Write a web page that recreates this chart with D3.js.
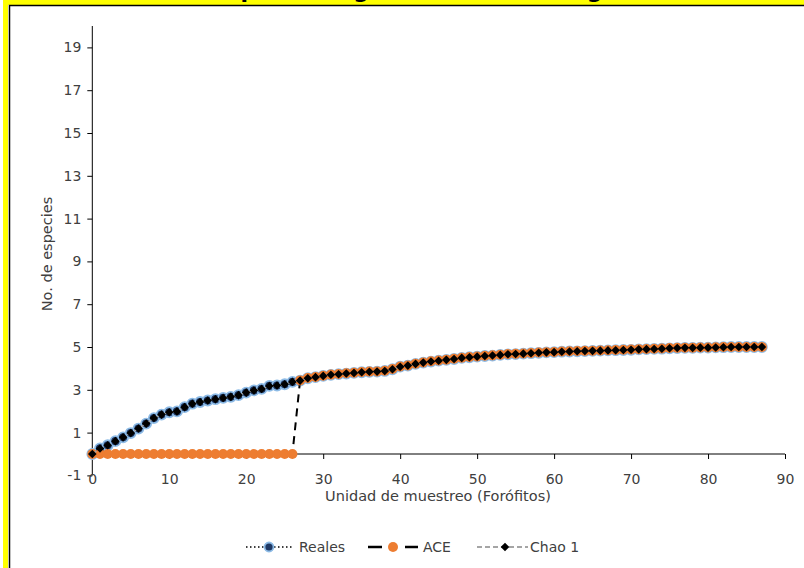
<!DOCTYPE html>
<html>
<head>
<meta charset="utf-8">
<script src="https://cdn.jsdelivr.net/npm/d3@7"></script>
<style>
  html, body { margin: 0; padding: 0; background: #ffffff; }
  svg { display: block; }
  text { font-family: "DejaVu Sans", "Noto Sans", sans-serif; }
</style>
</head>
<body>
<svg id="chart" width="804" height="568"></svg>
<script>
// Sampling units (phorophytes) along the x axis
const units = [0,1,2,3,4,5,6,7,8,9,10,11,12,13,14,15,16,17,18,19,20,21,22,23,24,25,26,27,28,29,
  30,31,32,33,34,35,36,37,38,39,40,41,42,43,44,45,46,47,48,49,50,51,52,53,54,55,56,57,58,59,
  60,61,62,63,64,65,66,67,68,69,70,71,72,73,74,75,76,77,78,79,80,81,82,83,84,85,86,87];

// Observed species accumulation
const reales = [0,0.26,0.41,0.6,0.78,0.98,1.19,1.42,1.68,1.84,
  1.95,1.99,2.19,2.35,2.43,2.5,2.56,2.62,2.67,2.75,
  2.87,2.97,3.04,3.18,3.2,3.26,3.37,3.43,3.54,3.59,
  3.65,3.7,3.73,3.76,3.79,3.82,3.84,3.85,3.88,3.96,
  4.08,4.13,4.21,4.27,4.32,4.36,4.4,4.44,4.49,4.52,
  4.55,4.58,4.6,4.63,4.66,4.67,4.69,4.71,4.73,4.75,
  4.76,4.78,4.79,4.8,4.81,4.82,4.83,4.84,4.85,4.86,
  4.87,4.89,4.9,4.91,4.92,4.94,4.95,4.96,4.96,4.97,
  4.97,4.98,4.99,5,5,5,5,5];

// ACE estimator
const ace = [0,0,0,0,0,0,0,0,0,0,
  0,0,0,0,0,0,0,0,0,0,
  0,0,0,0,0,0,0,3.44,3.55,3.6,
  3.66,3.71,3.74,3.77,3.8,3.83,3.85,3.86,3.89,3.97,
  4.09,4.14,4.22,4.28,4.33,4.37,4.41,4.45,4.5,4.53,
  4.56,4.59,4.61,4.64,4.67,4.68,4.7,4.72,4.74,4.76,
  4.77,4.79,4.8,4.81,4.82,4.83,4.84,4.85,4.86,4.87,
  4.88,4.9,4.91,4.92,4.93,4.95,4.96,4.97,4.97,4.98,
  4.98,4.99,5,5,5,5,5,5];

// Chao 1 estimator
const chao1 = [0,0.26,0.41,0.6,0.78,0.98,1.19,1.42,1.68,1.84,
  1.95,1.99,2.19,2.35,2.43,2.5,2.56,2.62,2.67,2.75,
  2.87,2.97,3.04,3.18,3.2,3.26,3.37,3.43,3.54,3.59,
  3.65,3.7,3.73,3.76,3.79,3.82,3.84,3.85,3.88,3.96,
  4.08,4.13,4.21,4.27,4.32,4.36,4.4,4.44,4.49,4.52,
  4.55,4.58,4.6,4.63,4.66,4.67,4.69,4.71,4.73,4.75,
  4.76,4.78,4.79,4.8,4.81,4.82,4.83,4.84,4.85,4.86,
  4.87,4.89,4.9,4.91,4.92,4.94,4.95,4.96,4.96,4.97,
  4.97,4.98,4.99,5,5,5,5,5];

const xTicks = [0,10,20,30,40,50,60,70,80,90];
const yTicks = [-1,1,3,5,7,9,11,13,15,17,19];

const seriesNames = ["Reales", "ACE", "Chao 1"];
const chartTitle = "Especies registradas en el rango";
const xTitle = "Unidad de muestreo (Forófitos)";
const yTitle = "No. de especies";

const svg = d3.select("#chart");

// Frame: yellow outer band, thin black inner line
svg.append("rect").attr("x", 0).attr("y", 0).attr("width", 804).attr("height", 568).attr("fill", "#ffffff");
svg.append("rect").attr("x", 5.5).attr("y", 2.5).attr("width", 900).attr("height", 700)
  .attr("fill", "none").attr("stroke", "#ffff00").attr("stroke-width", 5);
svg.append("rect").attr("x", 9.5).attr("y", 5.5).attr("width", 900).attr("height", 700)
  .attr("fill", "#ffffff").attr("stroke", "#000000").attr("stroke-width", 1.5);

// Title band at the top edge
svg.append("rect").attr("x", 149).attr("y", -10).attr("width", 533).attr("height", 14)
  .attr("fill", "#ffff00");
svg.append("text").attr("x", 415).attr("y", -2).attr("text-anchor", "middle")
  .attr("font-size", 22).attr("font-weight", "bold").attr("fill", "#000")
  .text(chartTitle);

const x = d3.scaleLinear().domain([0, 90]).range([92.3, 785]);
const y = d3.scaleLinear().domain([-1, 20]).range([475.4, 26]);

const axisColor = "#000000";
const labelColor = "#404040";

// Y axis (plain hyphen for negative values)
const yAxis = d3.axisLeft(y).tickValues(yTicks).tickSize(5).tickPadding(6)
  .tickFormat(d => String(d));
const gy = svg.append("g").attr("transform", `translate(${x(0)},0)`).call(yAxis);
gy.select(".domain").attr("stroke", axisColor).attr("stroke-width", 1).attr("d", `M0,${y(-1)}V${y(20)}`);
gy.selectAll(".tick line").attr("stroke", axisColor);
gy.selectAll(".tick text").attr("fill", labelColor).attr("font-size", 14)
  .style("font-family", '"DejaVu Sans", sans-serif');

// X axis at y = 0, labels sit at the bottom of the value range
const xAxis = d3.axisBottom(x).tickValues(xTicks).tickSize(5).tickPadding(15);
const gx = svg.append("g").attr("transform", `translate(0,${y(0)})`).call(xAxis);
gx.select(".domain").attr("stroke", axisColor).attr("stroke-width", 1).attr("d", `M${x(0)},0H${x(90)}`);
gx.selectAll(".tick line").attr("stroke", axisColor);
gx.selectAll(".tick text").attr("fill", labelColor).attr("font-size", 14)
  .style("font-family", '"DejaVu Sans", sans-serif');

// Axis titles
svg.append("text").attr("x", 438).attr("y", 501).attr("text-anchor", "middle")
  .attr("font-size", 14.5).attr("fill", labelColor).text(xTitle);
svg.append("text").attr("transform", "translate(52,254) rotate(-90)").attr("text-anchor", "middle")
  .attr("font-size", 14.5).attr("fill", labelColor).text(yTitle);

const line = vals => d3.line().x((d, i) => x(units[i])).y(d => y(d))(vals);
const diamond = r => `M0,${-r}L${r},0L0,${r}L${-r},0Z`;

const plot = svg.append("g");

// Reales: dotted black line with blue circle markers
plot.append("path").attr("d", line(reales)).attr("fill", "none")
  .attr("stroke", "#000").attr("stroke-width", 1.5).attr("stroke-dasharray", "1.5,2.5");
plot.selectAll("circle.reales").data(reales).join("circle").attr("class", "reales")
  .attr("cx", (d, i) => x(units[i])).attr("cy", d => y(d)).attr("r", 5)
  .attr("fill", "#1f3864").attr("stroke", "#8dbbe6").attr("stroke-width", 1.8);

// ACE: dashed black line with orange circles
plot.append("path").attr("d", line(ace)).attr("fill", "none")
  .attr("stroke", "#000").attr("stroke-width", 2).attr("stroke-dasharray", "8,6");
plot.selectAll("circle.ace").data(ace).join("circle").attr("class", "ace")
  .attr("cx", (d, i) => x(units[i])).attr("cy", d => y(d)).attr("r", 5)
  .attr("fill", "#ed7d31");

// Chao 1: grey dashed line with black diamonds
plot.append("path").attr("d", line(chao1)).attr("fill", "none")
  .attr("stroke", "#a5a5a5").attr("stroke-width", 1.5).attr("stroke-dasharray", "5,3");
plot.selectAll("path.chao").data(chao1).join("path").attr("class", "chao")
  .attr("transform", (d, i) => `translate(${x(units[i])},${y(d)})`)
  .attr("d", diamond(4.3)).attr("fill", "#000");

// Legend
const ly = 547;
const leg = svg.append("g");
// Reales
leg.append("line").attr("x1", 246).attr("x2", 292).attr("y1", ly).attr("y2", ly)
  .attr("stroke", "#000").attr("stroke-width", 1.5).attr("stroke-dasharray", "1.5,2.5");
leg.append("circle").attr("cx", 269).attr("cy", ly).attr("r", 4.5)
  .attr("fill", "#1f3864").attr("stroke", "#8dbbe6").attr("stroke-width", 1.8);
leg.append("text").attr("x", 299).attr("y", ly + 5).attr("font-size", 14).attr("fill", labelColor).text(seriesNames[0]);
// ACE
leg.append("line").attr("x1", 368).attr("x2", 382).attr("y1", ly).attr("y2", ly)
  .attr("stroke", "#000").attr("stroke-width", 2.5);
leg.append("line").attr("x1", 405).attr("x2", 418).attr("y1", ly).attr("y2", ly)
  .attr("stroke", "#000").attr("stroke-width", 2.5);
leg.append("circle").attr("cx", 393).attr("cy", ly).attr("r", 5).attr("fill", "#ed7d31");
leg.append("text").attr("x", 423).attr("y", ly + 5).attr("font-size", 14).attr("fill", labelColor).text(seriesNames[1]);
// Chao 1
leg.append("line").attr("x1", 477).attr("x2", 528).attr("y1", ly).attr("y2", ly)
  .attr("stroke", "#a5a5a5").attr("stroke-width", 2).attr("stroke-dasharray", "5,3");
leg.append("path").attr("transform", `translate(505,${ly})`).attr("d", diamond(4.3)).attr("fill", "#000");
leg.append("text").attr("x", 530).attr("y", ly + 5).attr("font-size", 14).attr("fill", labelColor).text(seriesNames[2]);
</script>
</body>
</html>
